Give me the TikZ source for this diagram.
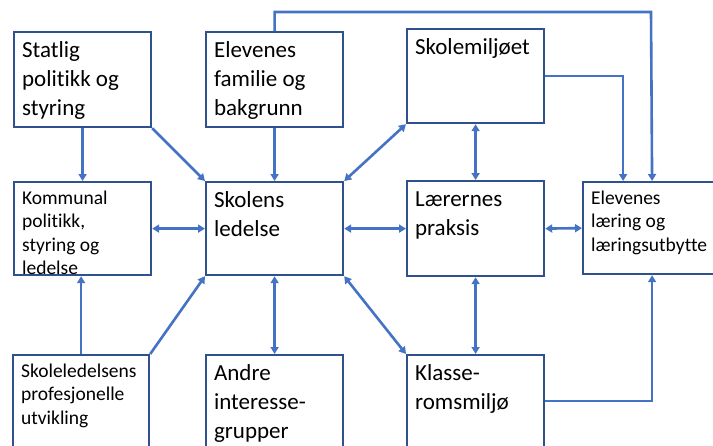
\documentclass[tikz,border=0pt]{standalone}
\usepackage{fontspec}
\setmainfont{Carlito}[Ligatures=NoCommon]
\usetikzlibrary{arrows.meta}
\definecolor{arrblue}{HTML}{4472C4}
\definecolor{edgeblue}{HTML}{2F528F}
\newcommand\bigtxt[3]{\parbox[c][#1pt][t]{#2pt}{\raggedright\fontsize{23}{29}\selectfont\rule{0pt}{25pt}#3}}
\newcommand\smalltxt[3]{\parbox[c][#1pt][t]{#2pt}{\raggedright\fontsize{19.5}{23.5}\selectfont\rule{0pt}{22pt}#3}}
\begin{document}
\begin{tikzpicture}[x=1pt,y=-1pt,
  box/.style={draw=edgeblue, line width=2.2pt, fill=white, inner xsep=8pt, inner ysep=0pt, anchor=north west},
  arr/.style={draw=arrblue, line width=2.6pt, -{Triangle[width=8pt,length=7pt]}},
  darr/.style={draw=arrblue, line width=2.6pt, {Triangle[width=8pt,length=7pt]}-{Triangle[width=8pt,length=7pt]}}]
\useasboundingbox (0,0) rectangle (713,445);
\clip (0,0) rectangle (713,445);
\node[box] (A) at (13,31) {\bigtxt{95}{121}{Statlig\\politikk og\\styring}};
\node[box] (B) at (205,31) {\bigtxt{95}{121}{Elevenes\\familie og\\bakgrunn}};
\node[box] (C) at (406,28) {\bigtxt{94}{121}{Skolemiljøet}};
\node[box] (D) at (13,181) {\smalltxt{93}{121}{Kommunal\\politikk,\\styring og\\ledelse}};
\node[box] (E) at (205,181) {\bigtxt{93}{121}{Skolens\\ledelse}};
\node[box] (F) at (406,180) {\bigtxt{95}{121}{Lærernes\\praksis}};
\node[box] (G) at (582,181) {\smalltxt{92}{122}{Elevenes\\læring og\\læringsutbytte}};
\node[box] (H) at (12,354) {\smalltxt{106}{120}{Skoleledelsens\\profesjonelle\\utvikling}};
\node[box] (I) at (205,354) {\bigtxt{106}{121}{Andre\\interesse-\\grupper}};
\node[box] (J) at (406,354) {\bigtxt{106}{121}{Klasse-\\romsmiljø}};
\coordinate (top) at (651,12);
% connectors
\draw[arr] (A.south) -- (D.north);
\draw[arr] (A.south east) -- (E.north west);
\draw[arr] (B.south) -- (E.north);
\draw[darr] (E.north east) -- (C.south west);
\draw[darr] (D.east) -- (E.west);
\draw[darr] (E.east) -- (F.west);
\draw[darr] (F.east) -- (G.west);
\draw[darr] (C.south) -- (F.north);
\draw[darr] (F.south) -- (J.north);
\draw[darr] (E.south) -- (I.north);
\draw[darr] (E.south east) -- (J.north west);
\draw[arr] (H.north) -- (H.north |- D.south);
\draw[arr] (H.north east) -- (E.south west);
\draw[arr] ([yshift=-47pt]J.north east) -| (G.south);
\draw[arr] (B.north) |- (top) -- (G.north);
\draw[arr] (C.east) -| ([xshift=-29pt]G.north);
\end{tikzpicture}
\end{document}
